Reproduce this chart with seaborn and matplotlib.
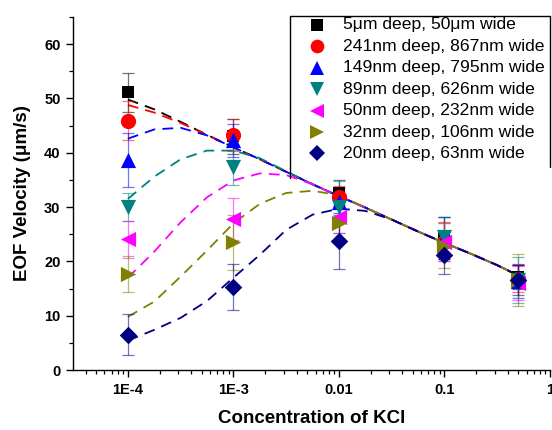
import matplotlib
matplotlib.use("Agg")
import matplotlib.pyplot as plt
import seaborn as sns
from matplotlib.lines import Line2D
from matplotlib.ticker import FixedLocator, LogLocator, MultipleLocator, NullFormatter

# ---------------- data ----------------
conc = [1e-4, 1e-3, 1e-2, 1e-1, 0.5]
series_labels = [
    "5\u03bcm deep, 50\u03bcm wide",
    "241nm deep, 867nm wide",
    "149nm deep, 795nm wide",
    "89nm deep, 626nm wide",
    "50nm deep, 232nm wide",
    "32nm deep, 106nm wide",
    "20nm deep, 63nm wide",
]
v_5um = [51.1, 43.0, 32.6, 24.3, 17.2]
v_241 = [45.9, 43.3, 31.9, 23.6, 16.8]
v_149 = [38.7, 42.3, 31.0, 24.3, 16.4]
v_89 = [30.0, 37.3, 30.0, 24.5, 16.6]
v_50 = [24.1, 27.8, 28.2, 23.6, 16.0]
v_32 = [17.6, 23.5, 27.0, 22.9, 16.6]
v_20 = [6.5, 15.3, 23.8, 21.2, 16.6]

e_5um = [3.6, 3.3, 2.3, 3.8, 2.2]
e_241 = [3.6, 3.0, 2.0, 3.6, 2.5]
e_149 = [5.0, 3.0, 2.5, 3.8, 3.2]
e_89 = [2.6, 3.3, 4.8, 3.6, 4.2]
e_50 = [3.4, 3.9, 3.0, 3.5, 3.2]
e_32 = [3.3, 5.0, 3.5, 4.2, 4.8]
e_20 = [3.8, 4.2, 5.2, 3.6, 2.8]

# fitted curves
fit_x = [1e-4, 1.78e-4, 3.16e-4, 5.62e-4, 1e-3, 1.78e-3, 3.16e-3, 5.62e-3,
         1e-2, 1.78e-2, 3.16e-2, 5.62e-2, 0.1, 0.178, 0.316, 0.5]
f_5um = [49.8, 48.0, 45.7, 43.3, 41.0, 38.8, 36.5, 34.2, 32.0, 29.9, 27.7, 25.5, 23.4, 21.4, 19.3, 17.4]
f_241 = [48.8, 47.4, 45.5, 43.3, 41.0, 38.8, 36.5, 34.2, 32.0, 29.9, 27.7, 25.5, 23.4, 21.4, 19.3, 17.4]
f_149 = [42.6, 44.3, 44.6, 43.2, 41.0, 38.8, 36.5, 34.2, 32.0, 29.9, 27.7, 25.5, 23.4, 21.4, 19.3, 17.4]
f_89 = [31.5, 35.6, 38.8, 40.4, 40.4, 39.0, 36.6, 34.2, 32.0, 29.9, 27.7, 25.5, 23.4, 21.4, 19.3, 17.4]
f_50 = [17.0, 21.8, 27.2, 31.8, 34.9, 36.2, 35.9, 34.2, 32.0, 29.9, 27.7, 25.5, 23.4, 21.4, 19.3, 17.4]
f_32 = [9.8, 12.6, 17.2, 22.0, 27.0, 30.6, 32.6, 33.0, 32.2, 29.9, 27.7, 25.5, 23.4, 21.4, 19.3, 17.4]
f_20 = [5.4, 7.4, 9.6, 12.7, 17.0, 21.2, 25.8, 28.6, 29.7, 29.3, 27.7, 25.5, 23.4, 21.4, 19.3, 17.4]

xtick_vals = [1e-4, 1e-3, 1e-2, 1e-1, 1.0]
xtick_labels = ["1E-4", "1E-3", "0.01", "0.1", "1"]
ytick_vals = [0, 10, 20, 30, 40, 50, 60]

values = [v_5um, v_241, v_149, v_89, v_50, v_32, v_20]
errors = [e_5um, e_241, e_149, e_89, e_50, e_32, e_20]
fits = [f_5um, f_241, f_149, f_89, f_50, f_32, f_20]

colors = ["#000000", "#ff0000", "#0000ff", "#008080", "#ff00ff", "#808000", "#000080"]
markers = ["s", "o", "^", "v", "<", ">", "D"]
msizes = [85, 120, 120, 120, 120, 120, 80]

# ---------------- style ----------------
sns.set_theme(style="ticks")
plt.rcParams["font.family"] = ["Liberation Sans", "DejaVu Sans"]
plt.rcParams["text.color"] = "black"
plt.rcParams["axes.labelcolor"] = "black"
plt.rcParams["xtick.color"] = "black"
plt.rcParams["ytick.color"] = "black"
plt.rcParams["axes.edgecolor"] = "black"

fig = plt.figure(figsize=(5.52, 4.30), dpi=100)
ax = fig.add_axes([73 / 552, 60 / 430, (550 - 73) / 552, (370 - 17) / 430])

# dashed fit curves
for fy, c in zip(fits, colors):
    sns.lineplot(x=fit_x, y=fy, color=c, linewidth=1.3, linestyle=(0, (6, 4)),
                 sort=False, estimator=None, ax=ax, zorder=2)

# error bars
for v, e, c in zip(values, errors, colors):
    ax.errorbar(conc, v, yerr=e, fmt="none", ecolor=c, elinewidth=0.9,
                capsize=4, capthick=0.9, alpha=0.55, zorder=3)

# markers
for v, c, m, s in zip(values, colors, markers, msizes):
    sns.scatterplot(x=conc, y=v, color=c, marker=m, s=s, linewidth=0, ax=ax, zorder=4)

ax.set_xscale("log")
ax.set_xlim(10 ** -4.52, 1.0)
ax.set_ylim(0, 65)
ax.xaxis.set_major_locator(FixedLocator(xtick_vals))
ax.set_xticklabels(xtick_labels)
ax.xaxis.set_minor_locator(LogLocator(base=10, subs=[2, 3, 4, 5, 6, 7, 8, 9], numticks=20))
ax.xaxis.set_minor_formatter(NullFormatter())
ax.yaxis.set_major_locator(FixedLocator(ytick_vals))
ax.yaxis.set_minor_locator(MultipleLocator(5))

for sp in ["top", "right"]:
    ax.spines[sp].set_visible(False)
for sp in ["left", "bottom"]:
    ax.spines[sp].set_color("black")
    ax.spines[sp].set_linewidth(1.0)

ax.tick_params(axis="both", which="major", direction="out", length=5, width=1.0,
               color="black", labelcolor="black", labelsize=10.5, pad=4)
ax.tick_params(axis="both", which="minor", direction="out", length=3, width=0.9,
               color="black")
for lab in ax.get_xticklabels() + ax.get_yticklabels():
    lab.set_fontweight("bold")

ax.set_xlabel("Concentration of KCl", fontsize=13.5, fontweight="bold", labelpad=10,
              color="black")
ax.set_ylabel("EOF Velocity (\u03bcm/s)", fontsize=13.5, fontweight="bold", labelpad=9,
              color="black")
ax.grid(False)

# legend (manual, figure coordinates)
W, H = 552.0, 430.0
for i, (lab, c, m, s) in enumerate(zip(series_labels, colors, markers, msizes)):
    yy = 1 - (25 + 21.4 * i) / H
    fig.add_artist(Line2D([317 / W], [yy], marker=m, color=c, markersize=(s ** 0.5) * 0.9,
                          markeredgewidth=0, linestyle="none", transform=fig.transFigure))
    fig.text(343 / W, yy, lab, fontsize=12.6, va="center", ha="left", color="black")

lx0, lx1, ly0 = 290 / W, 549.5 / W, 1 - 16 / H
fig.add_artist(Line2D([lx0, lx1], [ly0, ly0], color="black", lw=1.0, transform=fig.transFigure))
fig.add_artist(Line2D([lx0, lx0], [ly0, 1 - 178 / H], color="black", lw=1.0, transform=fig.transFigure))
fig.add_artist(Line2D([lx1, lx1], [ly0, 1 - 167 / H], color="black", lw=1.0, transform=fig.transFigure))

fig.savefig("out.png", dpi=100)
